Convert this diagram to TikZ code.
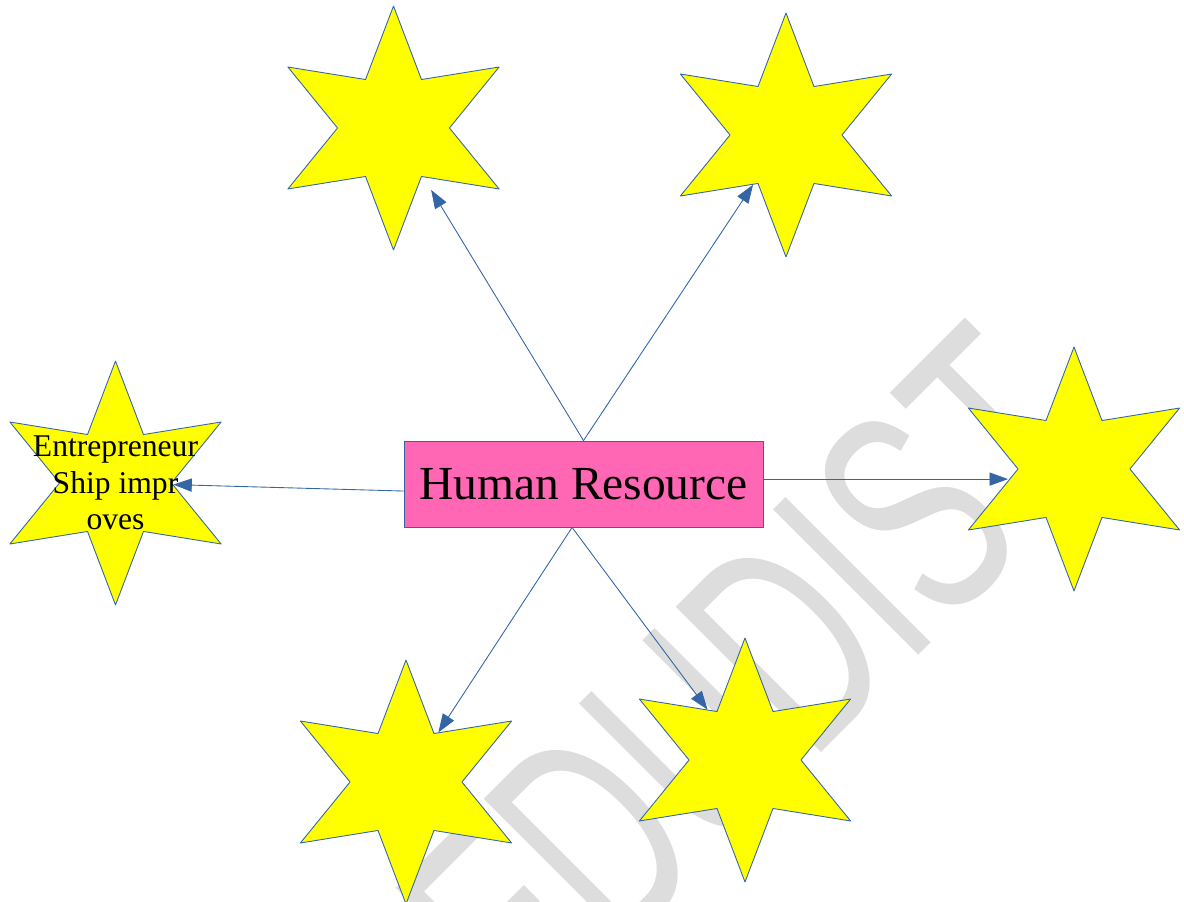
\documentclass[tikz,border=0pt]{standalone}
\usepackage{fontspec}
\setmainfont{Liberation Serif}
\newfontfamily\markfont{Liberation Sans}
\usepackage{tikz}
\usetikzlibrary{shapes.geometric,arrows.meta}
\definecolor{edge}{HTML}{3465A4}
\definecolor{hrpink}{HTML}{FF66B3}
\definecolor{staryellow}{HTML}{FFFF00}
\definecolor{wmgray}{HTML}{DDDDDD}
\tikzset{
  YellowStar/.style={
    star, star points=6, star point ratio=2.18,
    minimum size=4.88cm, inner sep=0pt,
    draw=edge, line width=0.5pt, fill=staryellow
  },
  HrBox/.style={
    rectangle, draw=edge, line width=0.5pt, fill=hrpink,
    minimum width=7.18cm, minimum height=1.72cm,
    font=\fontsize{27}{32}\selectfont
  },
  StarText/.style={
    align=center, inner sep=0pt,
    font=\fontsize{18}{20.7}\selectfont
  },
  FlowArrow/.style={
    draw=edge, line width=0.5pt,
    -{Triangle[length=10.5pt,width=7.5pt]}
  },
  WaterMark/.style={
    text=wmgray, anchor=base, rotate=45, xscale=0.63,
    font=\markfont\fontsize{170}{170}\selectfont
  }
}

\begin{document}
\begin{tikzpicture}[x=0.02cm, y=-0.02cm, line cap=round, line join=round]
  \useasboundingbox (0,0) rectangle (1184,902);

  % Watermark behind everything
  \node[WaterMark] (WM) at (822,752) {EDUDIST};

  % The six stars round the box
  \node[YellowStar] (S1) at (393.5,128) {};
  \node[YellowStar] (S2) at (786,135) {};
  \node[YellowStar] (S3) at (115.5,483) {};
  \node[YellowStar] (S4) at (1074,469) {};
  \node[YellowStar] (S5) at (406,782) {};
  \node[YellowStar] (S6) at (745,760) {};
  \node[StarText] (T3) at (S3) {Entrepreneur\\Ship impr\\oves};

  % Centre box
  \node[HrBox] (HR) at (583.5,484) {Human Resource};

  % Arrows out of the box
  \draw[FlowArrow, shorten >=8.5pt] (HR.north) -- (S1);
  \draw[FlowArrow] (HR.north) -- (S2);
  \draw[FlowArrow] ([yshift=-4pt]HR.west) -- (S3);
  \draw[FlowArrow, shorten >=5.4pt] ([yshift=2.8pt]HR.east) -- ([yshift=2.8pt]HR.east -| S4.west);
  \draw[FlowArrow] ([xshift=-6.5pt]HR.south) -- (S5);
  \draw[FlowArrow] ([xshift=-6.5pt]HR.south) -- (S6);
\end{tikzpicture}
\end{document}
